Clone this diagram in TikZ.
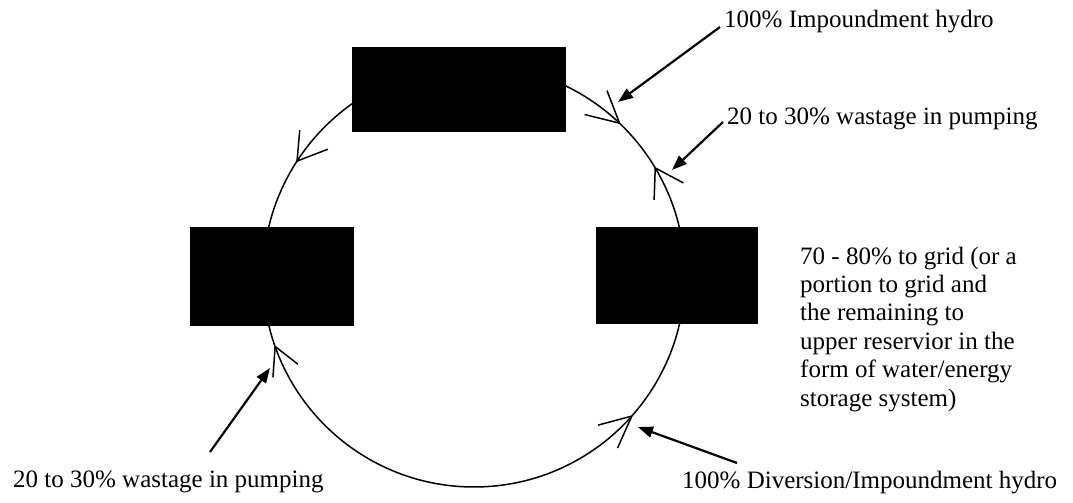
\documentclass[tikz,border=0pt]{standalone}
\usepackage{fontspec}
\setmainfont{Liberation Serif}
\usetikzlibrary{arrows.meta,calc}
\begin{document}
\begin{tikzpicture}[x=1pt,y=1pt,
  blackbox/.style={draw=black,fill=black,minimum width=#1,inner sep=0pt},
  lab/.style={inner sep=0pt,anchor=base west,font=\fontsize{25}{28.4}\selectfont},
  ring/.style={line width=1.5pt},
  arm/.style={line width=1.5pt},
  pointer/.style={line width=2.2pt,-{Triangle[length=15pt,width=11pt]}}]
\useasboundingbox (0,0) rectangle (1073,503);
% circle
\coordinate (C) at (474,227);
\draw[ring] (C) circle[radius=211];
% boxes
\node[blackbox=213pt,minimum height=84pt] (top) at (458.5,414) {};
\node[blackbox=163pt,minimum height=98pt] (left) at (271.5,227) {};
\node[blackbox=161pt,minimum height=96pt] (right) at (676.5,228) {};
% open arrowheads on the circle
\coordinate (h1) at ($(C)+(147:211)$);
\draw[arm] (h1) -- ++(21:33) (h1) -- ++(85:31);
\coordinate (h2) at ($(C)+(46.4:211)$);
\draw[arm] (h2) -- ++(111:35) (h2) -- ++(166:36);
\coordinate (h3) at ($(C)+(30.8:211)$);
\draw[arm] (h3) -- ++(-92:32) (h3) -- ++(-28:32);
\coordinate (h4) at ($(C)+(199.5:211)$);
\draw[arm] (h4) -- ++(-94:31) (h4) -- ++(-38:29);
\coordinate (h5) at ($(C)+(-41.6:211)$);
\draw[arm] (h5) -- ++(-165:35) (h5) -- ++(-114:35);
% labels
\node[lab] (t1) at (724,475) {100\% Impoundment hydro};
\node[lab] (t2) at (727,378) {20 to 30\% wastage in pumping};
\node[lab,align=left,anchor=north west] (t3) at (800,256.5) {70 - 80\% to grid (or a\\portion to grid and\\the remaining to\\upper reservior in the\\form of water/energy\\storage system)};
\node[lab] (t4) at (13,15) {20 to 30\% wastage in pumping};
\node[lab] (t5) at (682,14) {100\% Diversion/Impoundment hydro};
% pointer arrows
\coordinate (p1) at (618,401);
\coordinate (p2) at (672,333);
\coordinate (p3) at (270,135);
\coordinate (p4) at (638,76);
\coordinate (s3) at (210,51);
\coordinate (s4) at (737,40);
\draw[pointer] ([xshift=-4pt,yshift=1pt]t1.base west) -- (p1);
\draw[pointer] ([xshift=-4pt,yshift=3pt]t2.base west) -- (p2);
\draw[pointer] (s3) -- (p3);
\draw[pointer] (s4) -- (p4);
\end{tikzpicture}
\end{document}
